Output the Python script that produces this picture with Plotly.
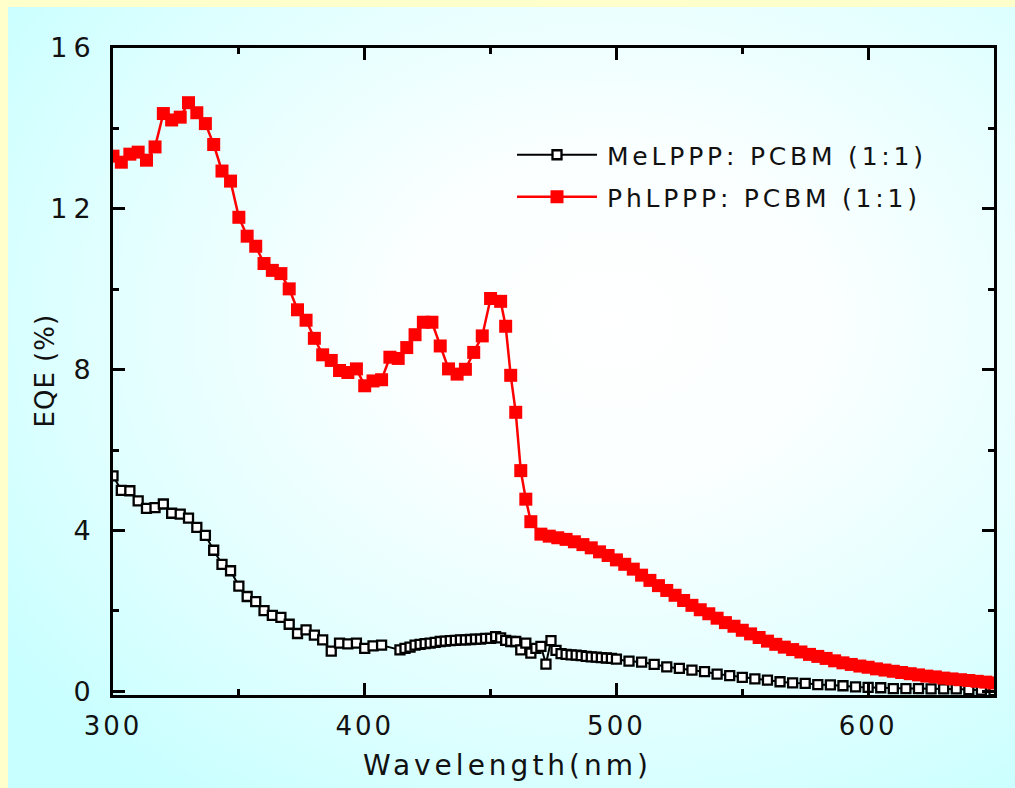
import base64
import plotly.graph_objects as go

# ---- PhLPPP:PCBM (1:1) EQE spectrum ----
red_wl = [300.0, 303.3, 306.7, 310.0, 313.3, 316.7, 320.0, 323.3, 326.7, 330.0,
          333.3, 336.7, 340.0, 343.3, 346.7, 350.0, 353.3, 356.7, 360.0, 363.3,
          366.7, 370.0, 373.3, 376.7, 380.0, 383.3, 386.7, 390.0, 393.3, 396.7,
          400.0, 403.3, 406.7, 410.0, 413.3, 416.7, 420.0, 423.3, 426.7, 430.0,
          433.3, 436.7, 440.0, 443.3, 446.7, 450.0, 454.0, 456.0, 458.0, 460.0,
          462.0, 464.0, 466.0, 470.0, 473.3, 476.7, 480.0, 483.3, 486.7, 490.0,
          493.3, 496.7, 500.0, 503.3, 506.7, 510.0, 513.3, 516.7, 520.0, 523.3,
          526.7, 530.0, 533.3, 536.7, 540.0, 543.3, 546.7, 550.0, 553.3, 556.7,
          560.0, 563.3, 566.7, 570.0, 573.3, 576.7, 580.0, 583.3, 586.7, 590.0,
          593.3, 596.7, 600.0, 603.3, 606.7, 610.0, 613.3, 616.7, 620.0, 623.3,
          626.7, 630.0, 633.3, 636.7, 640.0, 643.3, 646.7, 650.0]
red_eqe = [13.31, 13.16, 13.36, 13.41, 13.21, 13.54, 14.37, 14.21, 14.28, 14.64,
           14.39, 14.12, 13.60, 12.94, 12.69, 11.79, 11.32, 11.07, 10.64, 10.47,
           10.39, 10.01, 9.49, 9.23, 8.78, 8.37, 8.23, 7.98, 7.93, 8.02,
           7.60, 7.72, 7.75, 8.31, 8.28, 8.55, 8.87, 9.18, 9.18, 8.59,
           8.02, 7.89, 8.01, 8.43, 8.84, 9.77, 9.70, 9.08, 7.86, 6.94,
           5.49, 4.78, 4.22, 3.91, 3.86, 3.82, 3.78, 3.72, 3.65, 3.57,
           3.47, 3.38, 3.27, 3.16, 3.04, 2.89, 2.76, 2.63, 2.51, 2.39,
           2.26, 2.14, 2.03, 1.93, 1.82, 1.71, 1.62, 1.52, 1.43, 1.34,
           1.25, 1.17, 1.10, 1.04, 0.98, 0.92, 0.87, 0.82, 0.76, 0.71,
           0.67, 0.63, 0.60, 0.56, 0.53, 0.50, 0.47, 0.44, 0.41, 0.38,
           0.36, 0.33, 0.31, 0.29, 0.27, 0.25, 0.23, 0.21]

# ---- MeLPPP:PCBM (1:1) EQE spectrum ----
black_wl = [300.0, 303.3, 306.7, 310.0, 313.3, 316.7, 320.0, 323.3, 326.7, 330.0,
            333.3, 336.7, 340.0, 343.3, 346.7, 350.0, 353.3, 356.7, 360.0, 363.3,
            366.7, 370.0, 373.3, 376.7, 380.0, 383.3, 386.7, 390.0, 393.3, 396.7,
            400.0, 403.3, 406.7, 414.0, 416.0, 418.0, 420.0, 422.0, 424.0, 426.0,
            428.0, 430.0, 432.0, 434.0, 436.0, 438.0, 440.0, 442.0, 444.0, 446.0,
            448.0, 450.0, 452.0, 454.0, 456.0, 458.0, 460.0, 462.0, 464.0, 466.0,
            468.0, 470.0, 472.0, 474.0, 476.0, 478.0, 480.0, 482.0, 484.0, 486.0,
            488.0, 490.0, 492.0, 494.0, 496.0, 498.0, 500.0, 505.0, 510.0, 515.0,
            520.0, 525.0, 530.0, 535.0, 540.0, 545.0, 550.0, 555.0, 560.0, 565.0,
            570.0, 575.0, 580.0, 585.0, 590.0, 595.0, 600.0, 605.0, 610.0, 615.0,
            620.0, 625.0, 630.0, 635.0, 640.0, 645.0, 650.0]
black_eqe = [5.36, 5.00, 4.99, 4.74, 4.55, 4.57, 4.66, 4.43, 4.41, 4.31,
             4.08, 3.88, 3.51, 3.16, 3.00, 2.62, 2.36, 2.23, 2.01, 1.89,
             1.84, 1.67, 1.44, 1.53, 1.40, 1.28, 1.00, 1.20, 1.18, 1.20,
             1.07, 1.13, 1.15, 1.03, 1.07, 1.10, 1.15, 1.17, 1.19, 1.20,
             1.22, 1.24, 1.25, 1.26, 1.27, 1.28, 1.28, 1.29, 1.30, 1.30,
             1.32, 1.32, 1.36, 1.33, 1.27, 1.24, 1.24, 1.03, 1.20, 0.95,
             1.07, 1.12, 0.68, 1.26, 1.02, 0.94, 0.92, 0.91, 0.90, 0.89,
             0.87, 0.86, 0.85, 0.84, 0.83, 0.82, 0.80, 0.75, 0.73, 0.67,
             0.61, 0.57, 0.53, 0.49, 0.43, 0.39, 0.35, 0.31, 0.28, 0.24,
             0.21, 0.20, 0.17, 0.16, 0.14, 0.11, 0.10, 0.09, 0.07, 0.07,
             0.07, 0.06, 0.06, 0.06, 0.04, 0.03, 0.02]

x_ticks = [300, 400, 500, 600]
x_minor = [350, 450, 550, 650]
y_ticks = [0, 4, 8, 12, 16]
y_minor = [2, 6, 10, 14]

FONT = "DejaVu Sans"
TEXT = "#111111"
W, H = 1015, 788
ML, MR, MT, MB = 113, 21, 48, 93
PW, PH = W - ML - MR, H - MT - MB

# soft cyan-to-white backdrop inside a pale yellow frame
svg = (
    "<svg xmlns='http://www.w3.org/2000/svg' width='1007' height='781' "
    "viewBox='0 0 1007 781' preserveAspectRatio='none'>"
    "<defs><radialGradient id='g' cx='0.6' cy='0.4' r='0.75'>"
    "<stop offset='0' stop-color='#FFFFFF'/>"
    "<stop offset='0.3' stop-color='#FAFFFF'/>"
    "<stop offset='0.7' stop-color='#E0FFFF'/>"
    "<stop offset='1' stop-color='#C8FFFF'/>"
    "</radialGradient></defs>"
    "<rect width='1007' height='781' fill='url(#g)'/></svg>"
)
bg_uri = "data:image/svg+xml;base64," + base64.b64encode(svg.encode()).decode()


def px_x(p):
    return (p - ML) / PW


def px_y(p):
    return (H - MB - p) / PH


fig = go.Figure()

fig.add_trace(go.Scatter(
    x=black_wl, y=black_eqe, mode="lines+markers",
    name="MeLPPP: PCBM (1:1)",
    line=dict(color="black", width=2),
    marker=dict(symbol="square", size=9, color="white",
                line=dict(color="black", width=2.3)),
    legend="legend",
))
fig.add_trace(go.Scatter(
    x=red_wl, y=red_eqe, mode="lines+markers",
    name="PhLPPP: PCBM (1:1)",
    line=dict(color="#FF0000", width=2.5),
    marker=dict(symbol="square", size=13, color="#FF0000", line=dict(width=0)),
    legend="legend2",
))

axis_common = dict(
    showgrid=False, zeroline=False, showline=True, linecolor="black",
    linewidth=3, mirror="allticks", ticks="inside", ticklen=12,
    tickwidth=2.5, tickcolor="black",
)

fig.update_xaxes(
    range=[300, 650], tickmode="array", tickvals=x_ticks,
    ticktext=[str(v) for v in x_ticks], ticklabelstandoff=6,
    tickfont=dict(family=FONT, size=26, color=TEXT),
    minor=dict(tickmode="array", tickvals=x_minor, ticks="inside",
               ticklen=6, tickwidth=2.5, tickcolor="black"),
    **axis_common,
)
fig.update_yaxes(
    range=[-0.09, 16], tickmode="array", tickvals=y_ticks,
    ticktext=[str(v) for v in y_ticks], ticklabelstandoff=8,
    tickfont=dict(family=FONT, size=27, color=TEXT),
    minor=dict(tickmode="array", tickvals=y_minor, ticks="inside",
               ticklen=6, tickwidth=2.5, tickcolor="black"),
    **axis_common,
)

legend_common = dict(
    bgcolor="rgba(0,0,0,0)", borderwidth=0, itemwidth=80,
    font=dict(family=FONT, size=25, color=TEXT),
    xanchor="left", yanchor="middle", x=px_x(512),
)

fig.update_layout(
    width=W, height=H, autosize=False,
    margin=dict(l=ML, r=MR, t=MT, b=MB, pad=0),
    paper_bgcolor="#FFFFCC", plot_bgcolor="rgba(0,0,0,0)",
    showlegend=True,
    legend=dict(y=px_y(155), **legend_common),
    legend2=dict(y=px_y(197), **legend_common),
    images=[dict(source=bg_uri, xref="paper", yref="paper",
                 x=px_x(8), y=px_y(7), sizex=(W - 8) / PW, sizey=(H - 7) / PH,
                 xanchor="left", yanchor="top", sizing="stretch",
                 layer="below")],
    annotations=[
        dict(text="Wavelength(nm)", xref="paper", yref="paper",
             x=px_x(507), y=px_y(765), xanchor="center", yanchor="middle",
             showarrow=False, font=dict(family=FONT, size=28, color=TEXT)),
        dict(text="EQE (%)", xref="paper", yref="paper",
             x=px_x(45), y=px_y(371), xanchor="center", yanchor="middle",
             textangle=-90, showarrow=False,
             font=dict(family=FONT, size=26, color=TEXT)),
    ],
)

# widen the lettering of tick labels, legend entries and the x title
style_js = (
    "var s=document.createElement('style');"
    "s.textContent='.xtick text{letter-spacing:3px}"
    " .ytick text{letter-spacing:6px}"
    " .legendtext,.legend2text{letter-spacing:3.8px;transform:translateX(5px)}"
    " .legend .scrollbox,.legend2 .scrollbox{clip-path:none !important}"
    " .annotation[data-index=\"0\"] .annotation-text{letter-spacing:4px}"
    " .annotation[data-index=\"1\"] .annotation-text{letter-spacing:1px}';"
    "document.head.appendChild(s);"
)

fig.write_html("out.html", post_script=style_js)
